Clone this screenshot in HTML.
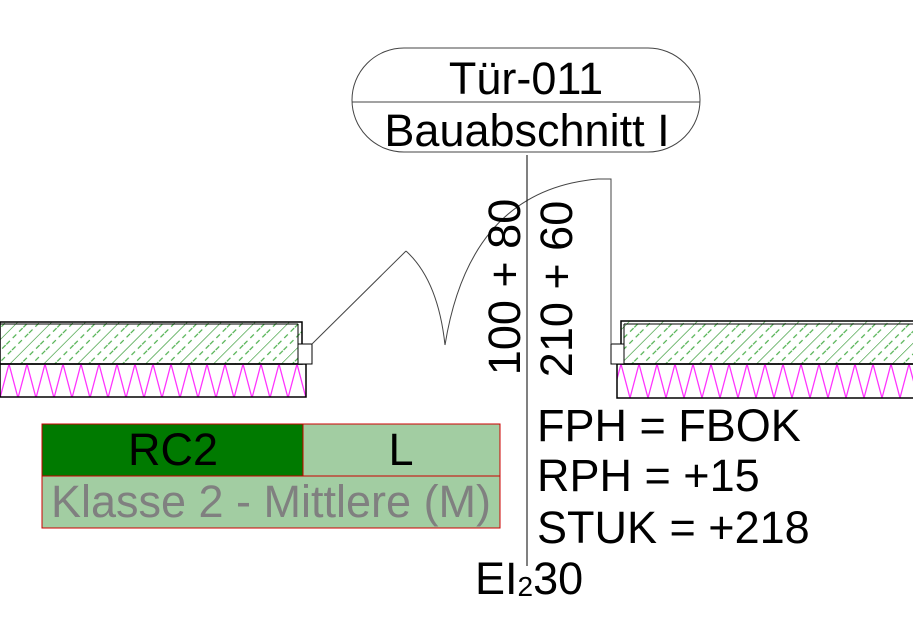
<!DOCTYPE html>
<html><head><meta charset="utf-8"><style>
html,body{margin:0;padding:0;background:#fff;width:913px;height:628px;overflow:hidden}
svg{display:block}
text{font-family:"Liberation Sans",sans-serif}
</style></head><body>
<svg width="913" height="628" viewBox="0 0 913 628" xmlns="http://www.w3.org/2000/svg">
<defs>
<pattern id="h" width="24" height="24" patternUnits="userSpaceOnUse" patternTransform="rotate(45)">
<line x1="0" y1="0" x2="0" y2="24" stroke="#1f8f1f" stroke-width="1.2"/>
<line x1="8" y1="0" x2="8" y2="24" stroke="#4caf4c" stroke-width="1.2" stroke-dasharray="5,4"/>
<line x1="16" y1="0" x2="16" y2="24" stroke="#4caf4c" stroke-width="1.2" stroke-dasharray="5,4"/>
</pattern>
<pattern id="z" width="18" height="34" patternUnits="userSpaceOnUse" x="0" y="364">
<polyline points="0,34 9,0 18,34" fill="none" stroke="#ff33ff" stroke-width="1.3"/>
</pattern>
</defs>
<rect x="0" y="322" width="302" height="42" fill="url(#h)" stroke="#000" stroke-width="1.5"/>
<line x1="0" y1="324" x2="298" y2="324" stroke="#000" stroke-width="1"/>
<line x1="298" y1="324" x2="298" y2="364" stroke="#000" stroke-width="1"/>
<rect x="0" y="364" width="306" height="33" fill="url(#z)" stroke="#000" stroke-width="1.5"/>
<rect x="298" y="344" width="14" height="20" fill="#fff" stroke="#000" stroke-width="1"/>
<rect x="621" y="321" width="300" height="43" fill="url(#h)" stroke="#000" stroke-width="1.5"/>
<line x1="624" y1="324" x2="913" y2="324" stroke="#000" stroke-width="1"/>
<line x1="624" y1="324" x2="624" y2="364" stroke="#000" stroke-width="1"/>
<rect x="617" y="364" width="300" height="34" fill="url(#z)" stroke="#000" stroke-width="1.5"/>
<rect x="611" y="344" width="13" height="20" fill="#fff" stroke="#000" stroke-width="1"/>
<g fill="none" stroke="#444" stroke-width="1">
<line x1="312" y1="344" x2="406" y2="251"/>
<path d="M406,251 Q438,280 445,345"/>
<path d="M445,345 Q470,190 598,179 L611,179 L611,344"/>
</g>
<line x1="527" y1="155" x2="527" y2="566" stroke="#000" stroke-width="1"/>
<rect x="352" y="48" width="348" height="104" rx="52" ry="52" fill="#fff" stroke="#444" stroke-width="1"/>
<line x1="352" y1="102" x2="700" y2="102" stroke="#444" stroke-width="1"/>
<text x="526" y="94" font-size="45" text-anchor="middle">Tür-011</text>
<text x="527" y="146" font-size="45" text-anchor="middle">Bauabschnitt I</text>
<text transform="translate(520,287) rotate(-90)" font-size="45" text-anchor="middle">100 + 80</text>
<text transform="translate(572,289) rotate(-90)" font-size="45" text-anchor="middle">210 + 60</text>
<text x="537" y="441" font-size="45">FPH = FBOK</text>
<text x="537" y="491" font-size="45">RPH = +15</text>
<text x="537" y="543" font-size="45">STUK = +218</text>
<text x="475" y="594" font-size="45">EI<tspan font-size="28" dy="2">2</tspan><tspan dy="-2">30</tspan></text>
<rect x="42" y="424" width="261" height="52" fill="#007a00"/>
<rect x="303" y="424" width="197" height="52" fill="#a2cda2"/>
<rect x="42" y="476" width="458" height="52" fill="#a2cda2"/>
<rect x="42" y="424" width="458" height="104" fill="none" stroke="#c00" stroke-width="1"/>
<line x1="42" y1="476" x2="500" y2="476" stroke="#c00" stroke-width="1"/>
<line x1="303" y1="424" x2="303" y2="476" stroke="#c00" stroke-width="1"/>
<text x="173" y="465" font-size="45" text-anchor="middle">RC2</text>
<text x="401" y="465" font-size="45" text-anchor="middle">L</text>
<text x="271" y="517" font-size="45" text-anchor="middle" fill="#808080">Klasse 2 - Mittlere (M)</text>
</svg>
</body></html>
